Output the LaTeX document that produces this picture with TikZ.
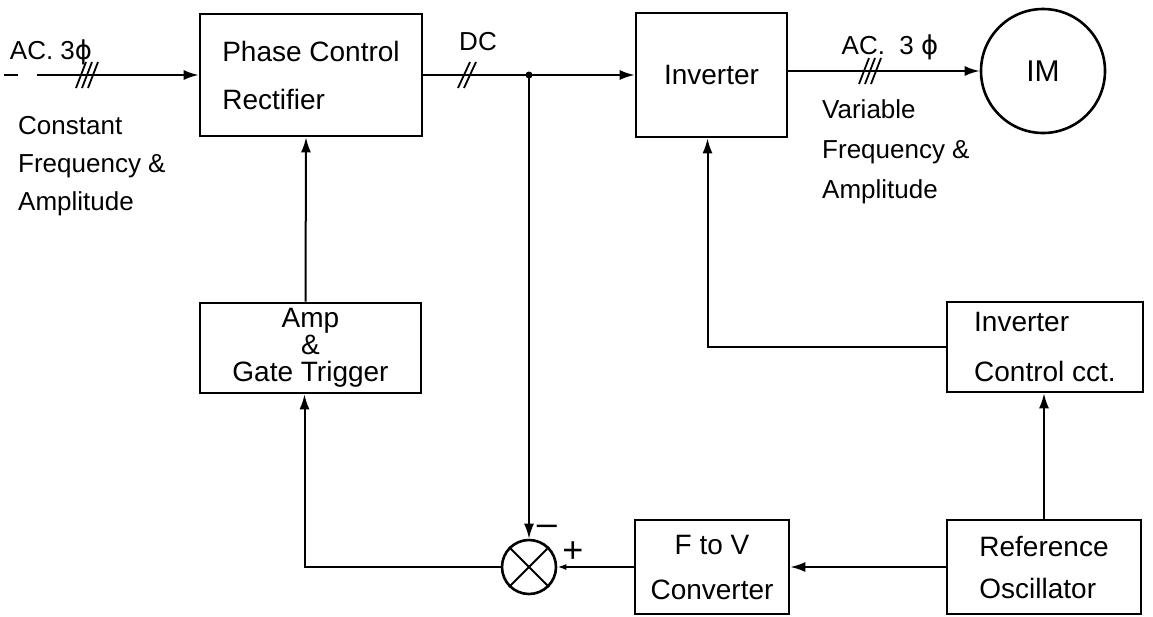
\documentclass[tikz,border=0pt]{standalone}
\usepackage{fontspec}
\setmainfont{Liberation Sans}
\newfontfamily\dejavu{DejaVu Sans}
\usetikzlibrary{arrows.meta,calc}
\newcommand{\phiglyph}{{\dejavu ϕ}}
\begin{document}
\begin{tikzpicture}[x=1pt,y=-1pt,
  blk/.style={draw, line width=2.6pt, rectangle, inner sep=0pt},
  wire/.style={line width=2pt},
  arr/.style={wire, -{Latex[length=15pt,width=10pt]}},
  sarr/.style={wire, -{Latex[length=9pt,width=6pt]}},
  lbl/.style={inner sep=0pt, font=\fontsize{26}{38}\selectfont},
  sgn/.style={inner sep=0pt, font=\fontsize{36}{38}\selectfont},
  tslash/.pic={\foreach \d in {-6,0,6} \draw[line width=1.8pt] (\d-5,13) -- (\d+5,-13);},
  dslash/.pic={\foreach \d in {-3,3} \draw[line width=1.8pt] (\d-6,13) -- (\d+6,-13);}]
\useasboundingbox (0,0) rectangle (1153,616);

% blocks
\node[blk, minimum width=222pt, minimum height=122pt, align=left,
      font=\fontsize{28}{48}\selectfont] (pcr) at (311,75) {Phase Control\\Rectifier};
\node[blk, minimum width=151pt, minimum height=124pt,
      font=\fontsize{28}{34}\selectfont] (inv) at (711.5,75) {Inverter};
\node[draw, circle, line width=2.6pt, minimum size=124pt, inner sep=0pt,
      font=\fontsize{30}{34}\selectfont] (im) at (1043,71) {IM};
\node[blk, minimum width=221pt, minimum height=90pt, align=center,
      font=\fontsize{28}{27}\selectfont] (amp) at (310.5,348) {Amp\\\&\\Gate Trigger};
\node[blk, minimum width=196pt, minimum height=90pt, align=left,
      font=\fontsize{28}{50}\selectfont] (icc) at (1045,347) {Inverter\\Control cct.};
\node[blk, minimum width=154pt, minimum height=94pt, align=center,
      font=\fontsize{28}{45}\selectfont] (ftv) at (712,567) {F to V\\Converter};
\node[blk, minimum width=194pt, minimum height=94pt, align=left,
      font=\fontsize{28}{42}\selectfont] (ref) at (1044,567) {Reference\\Oscillator};
\node[draw, circle, line width=2.6pt, minimum size=54pt, inner sep=0pt] (sum) at (529,567) {};
\draw[wire] (sum.north west) -- (sum.south east) (sum.north east) -- (sum.south west);

% labels
\node[lbl] (acin) at (51,52) {AC. 3\phiglyph};
\node[lbl, align=left, anchor=north west] (cfa) at (18,116) {Constant\\Frequency \&\\Amplitude};
\node[lbl] (dc) at (478,42) {DC};
\node[lbl] (acout) at (890,47) {AC.\ \ 3 \phiglyph};
\node[lbl, align=left, anchor=north west, font=\fontsize{26}{40}\selectfont] (vfa) at (822,99) {Variable\\Frequency \&\\Amplitude};
\node[sgn] (minus) at (547,530) {–};
\node[sgn] (plus) at (573,552) {+};

% connectors
\coordinate (inA) at (4,75);
\coordinate (inB) at (18,75);
\coordinate (inC) at (37,75);
\draw[wire] (inA) -- (inB);
\draw[arr] (inC) -- (pcr.west);
\pic at (87,75) {tslash};
\draw[arr] (pcr.east) -- (inv.west);
\pic at (467,75) {dslash};
\coordinate (jn) at (529,75);
\fill (jn) circle (3.5pt);
\draw[arr] (jn) -- (sum.north);
\draw[arr] (inv.east |- im.west) -- (im.west);
\pic at (870,71) {tslash};
\draw[arr] ([xshift=-5pt]amp.north) -- ([xshift=-5pt]pcr.south);
\draw[arr] (sum.west) -| ([xshift=-6pt]amp.south);
\draw[sarr] (ftv.west) -- (sum.east);
\draw[arr] (ref.west) -- (ftv.east);
\draw[arr] (ref.north) -- (ref.north |- icc.south);
\draw[arr] (icc.west) -| ([xshift=-4pt]inv.south);
\end{tikzpicture}
\end{document}
